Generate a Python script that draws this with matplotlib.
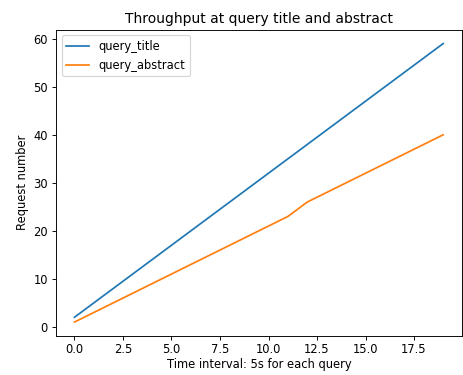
import matplotlib
matplotlib.use("Agg")
import matplotlib.pyplot as plt

# Request counts per 5s interval
steps = list(range(20))
query_title = [2, 5, 8, 11, 14, 17, 20, 23, 26, 29, 32, 35, 38, 41, 44, 47, 50, 53, 56, 59]
query_abstract = [1, 3, 5, 7, 9, 11, 13, 15, 17, 19, 21, 23, 26, 28, 30, 32, 34, 36, 38, 40]

fig, ax = plt.subplots(figsize=(463 / 83, 375 / 83), dpi=83)
ax.plot(steps, query_title, label='query_title')
ax.plot(steps, query_abstract, label='query_abstract')
ax.set_title('Throughput at query title and abstract')
ax.set_xlabel('Time interval: 5s for each query', labelpad=2)
ax.set_ylabel('Request number')
ax.tick_params(axis='x', pad=2.5)
ax.legend(loc='upper left')

plt.subplots_adjust(left=0.121, right=0.997, top=0.921, bottom=0.104)
plt.savefig('out.png', dpi=83)
